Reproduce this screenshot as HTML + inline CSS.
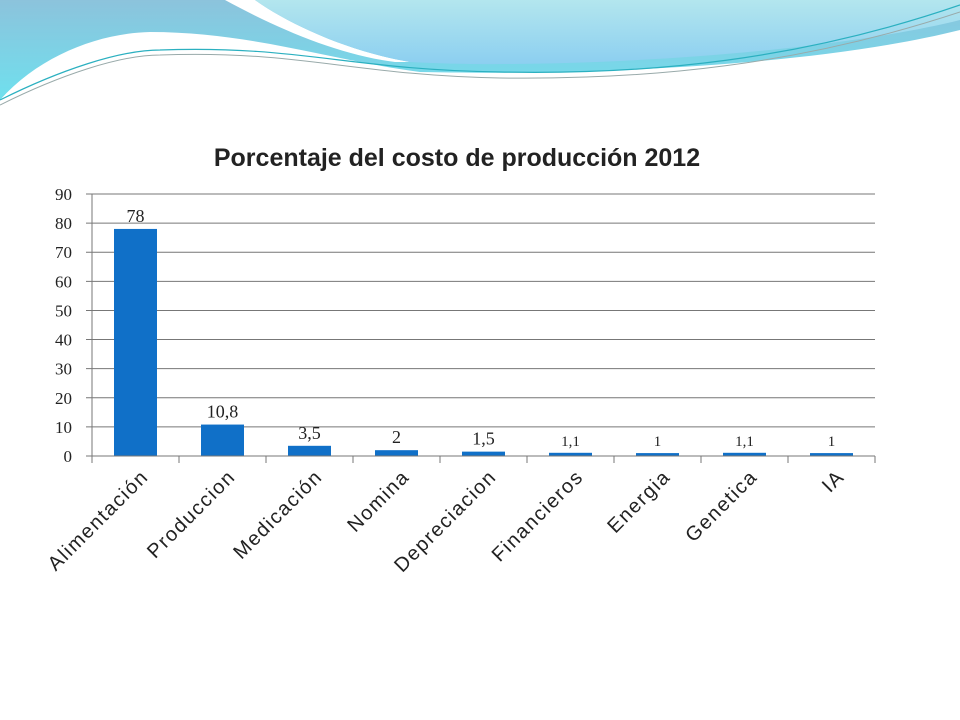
<!DOCTYPE html>
<html><head><meta charset="utf-8"><style>
html,body{margin:0;padding:0;background:#fff;}
svg{display:block;font-family:"Liberation Sans",sans-serif;}
</style></head><body>
<svg width="960" height="720" viewBox="0 0 960 720">
<defs>
<linearGradient id="g1" x1="0" y1="0" x2="0" y2="1"><stop offset="0" stop-color="#8cc3dc"/><stop offset="1" stop-color="#6fe0ee"/></linearGradient>
<linearGradient id="g2" x1="0" y1="0" x2="0" y2="1"><stop offset="0" stop-color="#b3e6ee"/><stop offset="1" stop-color="#8ccff0"/></linearGradient>
</defs>
<g>
<path d="M0,0 H960 V30 C800,70 550,75 420,72 C330,60 250,32 150,32 C100,33 40,55 0,100 Z" fill="url(#g1)"/>
<path d="M225,0 C280,30 340,55 395,62 L410,62 C350,52 290,25 255,0 Z" fill="#fff"/>
<path d="M255,0 H960 V20 C820,55 550,70 410,62 C350,52 290,25 255,0 Z" fill="url(#g2)"/>
<path d="M0,100 C60,70 120,50 160,50 C300,45 350,70 500,72 C650,75 800,60 960,5" fill="none" stroke="#2bb0c0" stroke-width="1.2"/>
<path d="M0,105 C60,75 120,55 160,55 C300,50 350,75 500,78 C650,80 800,65 960,12" fill="none" stroke="#9aa" stroke-width="1"/>
</g>
<text x="457" y="166" text-anchor="middle" font-family="Liberation Sans,sans-serif" font-weight="bold" font-size="25" fill="#222">Porcentaje del costo de producción 2012</text>
<g id="grid"></g>
<g id="yaxis"></g>
<g id="bars"></g>
<g id="xaxis"></g>
</svg>
<script>
const categories=["Alimentación","Produccion","Medicación","Nomina","Depreciacion","Financieros","Energia","Genetica","IA"];
const values=[78,10.8,3.5,2,1.5,1.1,1,1.1,1];
const valueLabels=["78","10,8","3,5","2","1,5","1,1","1","1,1","1"];
const yTicks=[0,10,20,30,40,50,60,70,80,90];
const NS="http://www.w3.org/2000/svg";
const X0=92,X1=875,Y0=456,Y1=194,YMAX=90;
const yS=v=>Y0-(v/YMAX)*(Y0-Y1);
const bw=(X1-X0)/categories.length;
const xC=i=>X0+bw*(i+0.5);
function mk(t,a,p){const e=document.createElementNS(NS,t);for(const k in a)e.setAttribute(k,a[k]);p.appendChild(e);return e;}
const grid=document.getElementById('grid'),ya=document.getElementById('yaxis'),bars=document.getElementById('bars'),xa=document.getElementById('xaxis');
yTicks.forEach(v=>{
 const l=mk('line',{x1:X0-6,x2:X1,y1:yS(v),y2:yS(v),stroke:'#777','stroke-width':1},grid);
 
 
 const t=mk('text',{x:72,y:yS(v)+6,'text-anchor':'end','font-size':17,fill:'#222','font-family':'Liberation Serif,serif'},ya);
 t.textContent=v;
 
 
});
mk('line',{x1:X0,x2:X0,y1:Y1,y2:Y0,stroke:'#777'},ya);
categories.forEach((c,i)=>{
 const r=mk('rect',{x:xC(i)-21.5,y:yS(values[i]),width:43,height:Y0-yS(values[i]),fill:'#1070c8'},bars);
 
 
 const small=values[i]<2&&i>4;
 const vl=mk('text',{x:xC(i),y:yS(values[i])-7,'text-anchor':'middle','font-size':small?15:18,fill:'#222','font-family':'Liberation Serif,serif'},bars);
 vl.textContent=valueLabels[i];
 
 
 const tk=mk('line',{x1:X0+bw*(i+1),x2:X0+bw*(i+1),y1:Y0,y2:Y0+7,stroke:'#777'},xa);
 
 
 const lx=xC(i)+14,ly=Y0+22;
 const xl=mk('text',{x:lx,y:ly,'text-anchor':'end','font-size':20,fill:'#222','letter-spacing':'1.5','font-family':'Liberation Sans,sans-serif',transform:`rotate(-45 ${lx} ${ly})`},xa);
 xl.textContent=c;
 
 
});
mk('line',{x1:X0,x2:X0,y1:Y0,y2:Y0+7,stroke:'#777'},xa);
mk('line',{x1:X0,x2:X1,y1:Y0,y2:Y0,stroke:'#777'},xa);
</script>
</body></html>
